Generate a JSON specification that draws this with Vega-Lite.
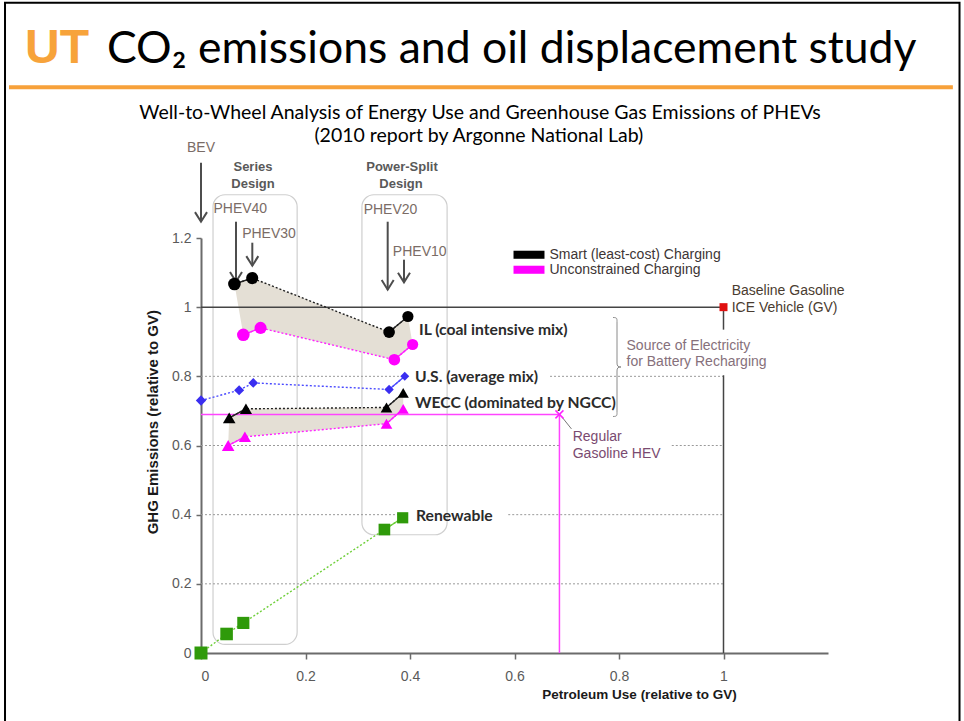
{
  "$schema": "https://vega.github.io/schema/vega-lite/v6.json",
  "width": 627,
  "height": 415,
  "autosize": {"type": "none"},
  "padding": {"left": 201, "top": 238, "right": 136, "bottom": 68},
  "background": "#ffffff",
  "config": {"view": {"stroke": null}, "font": "Liberation Sans"},
  "title": {
    "text": "CO₂ emissions and oil displacement study",
    "anchor": "start",
    "frame": "group",
    "dx": -94,
    "offset": -106,
    "baseline": "alphabetic",
    "font": "Lato",
    "fontSize": 44.5,
    "fontWeight": "normal",
    "color": "#000000"
  },
  "datasets": {
    "vehicles": [
      {"mix": "IL", "charging": "Smart (least-cost) Charging", "vehicle": "PHEV40", "design": "Series", "range": 40, "petroleum": 0.064, "ghg": 1.067},
      {"mix": "IL", "charging": "Smart (least-cost) Charging", "vehicle": "PHEV30", "design": "Series", "range": 30, "petroleum": 0.098, "ghg": 1.084},
      {"mix": "IL", "charging": "Smart (least-cost) Charging", "vehicle": "PHEV20", "design": "Power-Split", "range": 20, "petroleum": 0.360, "ghg": 0.928},
      {"mix": "IL", "charging": "Smart (least-cost) Charging", "vehicle": "PHEV10", "design": "Power-Split", "range": 10, "petroleum": 0.396, "ghg": 0.973},
      {"mix": "IL", "charging": "Unconstrained Charging", "vehicle": "PHEV40", "design": "Series", "range": 40, "petroleum": 0.081, "ghg": 0.920},
      {"mix": "IL", "charging": "Unconstrained Charging", "vehicle": "PHEV30", "design": "Series", "range": 30, "petroleum": 0.114, "ghg": 0.940},
      {"mix": "IL", "charging": "Unconstrained Charging", "vehicle": "PHEV20", "design": "Power-Split", "range": 20, "petroleum": 0.370, "ghg": 0.848},
      {"mix": "IL", "charging": "Unconstrained Charging", "vehicle": "PHEV10", "design": "Power-Split", "range": 10, "petroleum": 0.405, "ghg": 0.892},
      {"mix": "U.S.", "charging": "U.S. average mix", "vehicle": "BEV", "design": "BEV", "range": 0, "petroleum": 0.0, "ghg": 0.730},
      {"mix": "U.S.", "charging": "U.S. average mix", "vehicle": "PHEV40", "design": "Series", "range": 40, "petroleum": 0.073, "ghg": 0.760},
      {"mix": "U.S.", "charging": "U.S. average mix", "vehicle": "PHEV30", "design": "Series", "range": 30, "petroleum": 0.100, "ghg": 0.781},
      {"mix": "U.S.", "charging": "U.S. average mix", "vehicle": "PHEV20", "design": "Power-Split", "range": 20, "petroleum": 0.360, "ghg": 0.762},
      {"mix": "U.S.", "charging": "U.S. average mix", "vehicle": "PHEV10", "design": "Power-Split", "range": 10, "petroleum": 0.390, "ghg": 0.800},
      {"mix": "WECC", "charging": "Smart (least-cost) Charging", "vehicle": "PHEV40", "design": "Series", "range": 40, "petroleum": 0.054, "ghg": 0.680},
      {"mix": "WECC", "charging": "Smart (least-cost) Charging", "vehicle": "PHEV30", "design": "Series", "range": 30, "petroleum": 0.086, "ghg": 0.706},
      {"mix": "WECC", "charging": "Smart (least-cost) Charging", "vehicle": "PHEV20", "design": "Power-Split", "range": 20, "petroleum": 0.355, "ghg": 0.710},
      {"mix": "WECC", "charging": "Smart (least-cost) Charging", "vehicle": "PHEV10", "design": "Power-Split", "range": 10, "petroleum": 0.387, "ghg": 0.752},
      {"mix": "WECC", "charging": "Unconstrained Charging", "vehicle": "PHEV40", "design": "Series", "range": 40, "petroleum": 0.052, "ghg": 0.600},
      {"mix": "WECC", "charging": "Unconstrained Charging", "vehicle": "PHEV30", "design": "Series", "range": 30, "petroleum": 0.084, "ghg": 0.625},
      {"mix": "WECC", "charging": "Unconstrained Charging", "vehicle": "PHEV20", "design": "Power-Split", "range": 20, "petroleum": 0.355, "ghg": 0.663},
      {"mix": "WECC", "charging": "Unconstrained Charging", "vehicle": "PHEV10", "design": "Power-Split", "range": 10, "petroleum": 0.387, "ghg": 0.706},
      {"mix": "Renewable", "charging": "Renewable", "vehicle": "BEV", "design": "BEV", "range": 0, "petroleum": 0.0, "ghg": 0.0},
      {"mix": "Renewable", "charging": "Renewable", "vehicle": "PHEV40", "design": "Series", "range": 40, "petroleum": 0.049, "ghg": 0.055},
      {"mix": "Renewable", "charging": "Renewable", "vehicle": "PHEV30", "design": "Series", "range": 30, "petroleum": 0.081, "ghg": 0.087},
      {"mix": "Renewable", "charging": "Renewable", "vehicle": "PHEV20", "design": "Power-Split", "range": 20, "petroleum": 0.351, "ghg": 0.357},
      {"mix": "Renewable", "charging": "Renewable", "vehicle": "PHEV10", "design": "Power-Split", "range": 10, "petroleum": 0.386, "ghg": 0.391}
    ],
    "rules": [
      {"kind": "grid", "petroleum": 0, "petroleum2": 1, "ghg": 0.2, "ghg2": 0.2},
      {"kind": "grid", "petroleum": 0, "petroleum2": 0.39, "ghg": 0.4, "ghg2": 0.4},
      {"kind": "grid", "petroleum": 0.588, "petroleum2": 1, "ghg": 0.4, "ghg2": 0.4},
      {"kind": "grid", "petroleum": 0, "petroleum2": 0.686, "ghg": 0.6, "ghg2": 0.6},
      {"kind": "grid", "petroleum": 0.901, "petroleum2": 1, "ghg": 0.6, "ghg2": 0.6},
      {"kind": "grid", "petroleum": 0, "petroleum2": 0.394, "ghg": 0.8, "ghg2": 0.8},
      {"kind": "grid", "petroleum": 0.668, "petroleum2": 1, "ghg": 0.8, "ghg2": 0.8},
      {"kind": "ref", "petroleum": 0, "petroleum2": 1, "ghg": 1, "ghg2": 1},
      {"kind": "ref", "petroleum": 1, "petroleum2": 1, "ghg": 0, "ghg2": 0.803},
      {"kind": "ref", "petroleum": 1, "petroleum2": 1, "ghg": 0.935, "ghg2": 1},
      {"kind": "hev", "petroleum": 0, "petroleum2": 0.686, "ghg": 0.69, "ghg2": 0.69},
      {"kind": "hev", "petroleum": 0.686, "petroleum2": 0.686, "ghg": 0, "ghg2": 0.69},
      {"kind": "leader", "petroleum": 0.69, "petroleum2": 0.709, "ghg": 0.684, "ghg2": 0.648},
      {"kind": "arrow", "petroleum": 0.0, "petroleum2": 0.0, "ghg": 1.4176, "ghg2": 1.2471},
      {"kind": "arrow", "petroleum": 0.067, "petroleum2": 0.067, "ghg": 1.2471, "ghg2": 1.0737},
      {"kind": "arrow", "petroleum": 0.0982, "petroleum2": 0.0982, "ghg": 1.1864, "ghg2": 1.1199},
      {"kind": "arrow", "petroleum": 0.3573, "petroleum2": 0.3573, "ghg": 1.2471, "ghg2": 1.0506},
      {"kind": "arrow", "petroleum": 0.3885, "petroleum2": 0.3885, "ghg": 1.1373, "ghg2": 1.0717},
      {"kind": "accent", "petroleum": -0.3675, "petroleum2": 1.439, "ghg": 1.636, "ghg2": 1.636}
    ],
    "frames": [
      {"kind": "design", "petroleum": 0.023, "petroleum2": 0.184, "ghg": 0.025, "ghg2": 1.325},
      {"kind": "design", "petroleum": 0.308, "petroleum2": 0.471, "ghg": 0.342, "ghg2": 1.325},
      {"kind": "border", "petroleum": -0.3751, "petroleum2": 1.4517, "ghg": -0.25, "ghg2": 1.88}
    ],
    "markers": [
      {"kind": "gv", "petroleum": 1.0, "ghg": 1.0},
      {"kind": "hev", "petroleum": 0.686, "ghg": 0.69},
      {"kind": "brace", "petroleum": 0.7943, "ghg": 0.827},
      {"kind": "tip", "petroleum": 0.0, "ghg": 1.2471},
      {"kind": "tip", "petroleum": 0.067, "ghg": 1.0737},
      {"kind": "tip", "petroleum": 0.0982, "ghg": 1.1199},
      {"kind": "tip", "petroleum": 0.3573, "ghg": 1.0506},
      {"kind": "tip", "petroleum": 0.3885, "ghg": 1.0717}
    ],
    "notes": [
      {"kind": "veh", "text": "BEV", "petroleum": 0.0, "ghg": 1.461},
      {"kind": "veh", "text": "PHEV40", "petroleum": 0.0752, "ghg": 1.2847},
      {"kind": "veh", "text": "PHEV30", "petroleum": 0.1301, "ghg": 1.2124},
      {"kind": "veh", "text": "PHEV20", "petroleum": 0.3627, "ghg": 1.2803},
      {"kind": "veh", "text": "PHEV10", "petroleum": 0.4186, "ghg": 1.1584},
      {"kind": "design", "text": "Series", "petroleum": 0.0995, "ghg": 1.4061},
      {"kind": "design", "text": "Design", "petroleum": 0.0995, "ghg": 1.3569},
      {"kind": "design", "text": "Power-Split", "petroleum": 0.3847, "ghg": 1.4061},
      {"kind": "design", "text": "Design", "petroleum": 0.3828, "ghg": 1.3569},
      {"kind": "mix", "text": "IL (coal intensive mix)", "petroleum": 0.4172, "ghg": 0.935},
      {"kind": "mix", "text": "U.S. (average mix)", "petroleum": 0.4096, "ghg": 0.7977},
      {"kind": "mix", "text": "WECC (dominated by NGCC)", "petroleum": 0.4096, "ghg": 0.7225},
      {"kind": "mix", "text": "Renewable", "petroleum": 0.4115, "ghg": 0.3974},
      {"kind": "gv", "text": "Baseline Gasoline", "petroleum": 1.0157, "ghg": 1.046},
      {"kind": "gv", "text": "ICE Vehicle (GV)", "petroleum": 1.0157, "ghg": 0.9986},
      {"kind": "source", "text": "Source of Electricity", "petroleum": 0.8144, "ghg": 0.889},
      {"kind": "source", "text": "for Battery Recharging", "petroleum": 0.8144, "ghg": 0.8425},
      {"kind": "hev", "text": "Regular", "petroleum": 0.7114, "ghg": 0.6243},
      {"kind": "hev", "text": "Gasoline HEV", "petroleum": 0.7114, "ghg": 0.5766},
      {"kind": "subtitle", "text": "Well-to-Wheel Analysis of Energy Use and Greenhouse Gas Emissions of PHEVs", "petroleum": 0.534, "ghg": 1.5434},
      {"kind": "subtitle", "text": "(2010 report by Argonne National Lab)", "petroleum": 0.5317, "ghg": 1.4783},
      {"kind": "logo", "text": "UT", "petroleum": -0.3368, "ghg": 1.7066}
    ]
  },
  "encoding": {
    "x": {
      "field": "petroleum",
      "type": "quantitative",
      "scale": {"domain": [0, 1.2], "nice": false, "zero": false},
      "axis": {
        "values": [0, 0.2, 0.4, 0.6, 0.8, 1],
        "format": "~g",
        "grid": false,
        "domainColor": "#6b6b6b",
        "domainWidth": 2,
        "tickColor": "#6b6b6b",
        "tickWidth": 1.5,
        "tickSize": 6,
        "labelPadding": 10,
        "labelFont": "Liberation Sans",
        "labelFontSize": 14,
        "labelColor": "#5a5a5a",
        "title": "Petroleum Use (relative to GV)",
        "titleFont": "Liberation Sans",
        "titleFontSize": 13.5,
        "titleFontWeight": "bold",
        "titleColor": "#1a1a1a",
        "titleX": 438,
        "titleY": 41.5,
        "titleBaseline": "middle",
        "titleAlign": "center"
      }
    },
    "y": {
      "field": "ghg",
      "type": "quantitative",
      "scale": {"domain": [0, 1.2], "nice": false, "zero": false},
      "axis": {
        "values": [0, 0.2, 0.4, 0.6, 0.8, 1, 1.2],
        "format": "~g",
        "grid": false,
        "domainColor": "#6b6b6b",
        "domainWidth": 2,
        "tickColor": "#6b6b6b",
        "tickWidth": 1.5,
        "tickSize": 5,
        "labelPadding": 5,
        "labelFont": "Liberation Sans",
        "labelFontSize": 14,
        "labelColor": "#5a5a5a",
        "title": "GHG Emissions (relative to GV)",
        "titleFont": "Liberation Sans",
        "titleFontSize": 15,
        "titleFontWeight": "bold",
        "titleColor": "#1a1a1a",
        "titleAngle": -90,
        "titleX": -49,
        "titleY": 183.7,
        "titleBaseline": "middle",
        "titleAlign": "center"
      }
    }
  },
  "layer": [
    {
      "data": {"name": "frames"},
      "transform": [{"filter": "datum.kind == 'border'"}],
      "mark": {"type": "rect", "filled": false, "color": "#000000", "strokeWidth": 2},
      "encoding": {"x2": {"field": "petroleum2"}, "y2": {"field": "ghg2"}}
    },
    {
      "data": {"name": "frames"},
      "transform": [{"filter": "datum.kind == 'design'"}],
      "mark": {"type": "rect", "filled": false, "color": "#cfcfcf", "strokeWidth": 1.2, "cornerRadius": 12},
      "encoding": {"x2": {"field": "petroleum2"}, "y2": {"field": "ghg2"}}
    },
    {
      "data": {"name": "rules"},
      "transform": [{"filter": "datum.kind == 'accent'"}],
      "mark": {"type": "rule", "color": "#f7a13a", "strokeWidth": 4},
      "encoding": {"x2": {"field": "petroleum2"}, "y2": {"field": "ghg2"}}
    },
    {
      "data": {"name": "rules"},
      "transform": [{"filter": "datum.kind == 'grid'"}],
      "mark": {"type": "rule", "color": "#9a9a9a", "strokeWidth": 1, "strokeDash": [2, 2]},
      "encoding": {"x2": {"field": "petroleum2"}, "y2": {"field": "ghg2"}}
    },
    {
      "data": {"name": "vehicles"},
      "transform": [
        {"filter": "(datum.mix == 'IL' || datum.mix == 'WECC')"},
        {"calculate": "datum.charging == 'Smart (least-cost) Charging' ? 50 - datum.range : 50 + datum.range", "as": "ring"}
      ],
      "mark": {"type": "line", "fill": "#e4dfd5", "strokeOpacity": 0},
      "encoding": {"detail": {"field": "mix"}, "order": {"field": "ring", "type": "quantitative"}}
    },
    {
      "data": {"name": "rules"},
      "transform": [{"filter": "datum.kind == 'ref'"}],
      "mark": {"type": "rule", "color": "#444444", "strokeWidth": 1.5},
      "encoding": {"x2": {"field": "petroleum2"}, "y2": {"field": "ghg2"}}
    },
    {
      "data": {"name": "rules"},
      "transform": [{"filter": "datum.kind == 'hev'"}],
      "mark": {"type": "rule", "color": "#ff44ff", "strokeWidth": 1.5},
      "encoding": {"x2": {"field": "petroleum2"}, "y2": {"field": "ghg2"}}
    },
    {
      "data": {"name": "rules"},
      "transform": [{"filter": "datum.kind == 'leader'"}],
      "mark": {"type": "rule", "color": "#777777", "strokeWidth": 1},
      "encoding": {"x2": {"field": "petroleum2"}, "y2": {"field": "ghg2"}}
    },
    {
      "data": {"name": "rules"},
      "transform": [{"filter": "datum.kind == 'arrow'"}],
      "mark": {"type": "rule", "color": "#4d4d4d", "strokeWidth": 2},
      "encoding": {"x2": {"field": "petroleum2"}, "y2": {"field": "ghg2"}}
    },
    {
      "data": {"name": "markers"},
      "transform": [{"filter": "datum.kind == 'tip'"}],
      "mark": {"type": "point", "filled": false, "shape": "M-1,-1.6L0,0L1,-1.6", "size": 144, "color": "#4d4d4d", "strokeWidth": 2, "opacity": 1}
    },
    {
      "data": {"name": "vehicles"},
      "mark": {"type": "line", "strokeDash": [2, 2], "strokeWidth": 1.4},
      "encoding": {
        "detail": [{"field": "mix"}, {"field": "charging"}],
        "stroke": {
          "field": "charging",
          "type": "nominal",
          "scale": {
            "domain": ["U.S. average mix", "Renewable", "Smart (least-cost) Charging", "Unconstrained Charging"],
            "range": ["#4a4aff", "#6fcf3a", "#222222", "#ff22ff"]
          },
          "legend": null
        }
      }
    },
    {
      "data": {"name": "vehicles"},
      "transform": [{"filter": "datum.design == 'Power-Split' || (datum.design == 'Series' && (datum.mix == 'IL' || datum.mix == 'WECC'))"}],
      "mark": {"type": "line", "strokeWidth": 1.4},
      "encoding": {
        "detail": [{"field": "mix"}, {"field": "charging"}, {"field": "design"}],
        "stroke": {"field": "charging", "type": "nominal", "legend": null}
      }
    },
    {
      "data": {"name": "vehicles"},
      "mark": {"type": "point", "filled": true, "opacity": 1, "strokeWidth": 0},
      "encoding": {
        "shape": {
          "field": "mix",
          "type": "nominal",
          "scale": {
            "domain": ["IL", "U.S.", "WECC", "Renewable"],
            "range": ["circle", "M-0.8,0L0,-0.8L0.8,0L0,0.8Z", "triangle-up", "square"]
          },
          "legend": null
        },
        "fill": {
          "field": "charging",
          "type": "nominal",
          "scale": {
            "domain": ["Smart (least-cost) Charging", "Unconstrained Charging", "U.S. average mix", "Renewable"],
            "range": ["#000000", "#ff00ff", "#3a2ef0", "#2f9a0a"]
          },
          "legend": {
            "values": ["Smart (least-cost) Charging", "Unconstrained Charging"],
            "orient": "none",
            "legendX": 320,
            "legendY": 8.75,
            "title": null,
            "padding": 0,
            "symbolType": "M-2,-0.52H2V0.52H-2Z",
            "symbolSize": 240,
            "symbolStrokeWidth": 0,
            "symbolOpacity": 1,
            "labelFont": "Liberation Sans",
            "labelFontSize": 14,
            "labelColor": "#3d3535",
            "labelOffset": 12.5,
            "labelLimit": 400,
            "rowPadding": 0
          }
        },
        "size": {
          "field": "vehicle",
          "type": "nominal",
          "scale": {
            "domain": ["BEV", "PHEV40", "PHEV30", "PHEV20", "PHEV10"],
            "range": [169, 125, 76, 72, 22]
          },
          "legend": null
        }
      }
    },
    {
      "data": {"name": "markers"},
      "transform": [{"filter": "datum.kind == 'gv'"}],
      "mark": {"type": "point", "shape": "square", "filled": true, "color": "#e01010", "size": 64, "opacity": 1}
    },
    {
      "data": {"name": "markers"},
      "transform": [{"filter": "datum.kind == 'hev'"}],
      "mark": {"type": "point", "shape": "M-1,-1L1,1M-1,1L1,-1", "filled": false, "color": "#ff22ff", "size": 64, "strokeWidth": 1.5, "opacity": 1}
    },
    {
      "data": {"name": "markers"},
      "transform": [{"filter": "datum.kind == 'brace'"}],
      "mark": {
        "type": "point",
        "shape": "M-0.06,-1C0.02,-1 0.02,-0.98 0.02,-0.92L0.02,-0.08C0.02,-0.02 0.04,0 0.1,0C0.04,0 0.02,0.02 0.02,0.08L0.02,0.92C0.02,0.98 0.02,1 -0.06,1",
        "filled": false,
        "color": "#8a8a8a",
        "size": 9801,
        "strokeWidth": 1,
        "opacity": 1
      }
    },
    {
      "data": {"name": "notes"},
      "transform": [{"filter": "datum.kind == 'veh'"}],
      "mark": {"type": "text", "font": "Liberation Sans", "fontSize": 14, "color": "#7a6c66", "align": "center", "baseline": "middle"},
      "encoding": {"text": {"field": "text"}}
    },
    {
      "data": {"name": "notes"},
      "transform": [{"filter": "datum.kind == 'design'"}],
      "mark": {"type": "text", "font": "Liberation Sans", "fontSize": 13, "fontWeight": "bold", "color": "#595959", "align": "center", "baseline": "middle"},
      "encoding": {"text": {"field": "text"}}
    },
    {
      "data": {"name": "notes"},
      "transform": [{"filter": "datum.kind == 'mix'"}],
      "mark": {"type": "text", "font": "Lato", "fontSize": 15.7, "fontWeight": "bold", "color": "#2b2b2b", "align": "left", "baseline": "middle"},
      "encoding": {"text": {"field": "text"}}
    },
    {
      "data": {"name": "notes"},
      "transform": [{"filter": "datum.kind == 'gv'"}],
      "mark": {"type": "text", "font": "Liberation Sans", "fontSize": 14, "color": "#4a3c30", "align": "left", "baseline": "middle"},
      "encoding": {"text": {"field": "text"}}
    },
    {
      "data": {"name": "notes"},
      "transform": [{"filter": "datum.kind == 'source'"}],
      "mark": {"type": "text", "font": "Liberation Sans", "fontSize": 14, "color": "#86707b", "align": "left", "baseline": "middle"},
      "encoding": {"text": {"field": "text"}}
    },
    {
      "data": {"name": "notes"},
      "transform": [{"filter": "datum.kind == 'hev'"}],
      "mark": {"type": "text", "font": "Liberation Sans", "fontSize": 14, "color": "#7a4a70", "align": "left", "baseline": "middle"},
      "encoding": {"text": {"field": "text"}}
    },
    {
      "data": {"name": "notes"},
      "transform": [{"filter": "datum.kind == 'subtitle'"}],
      "mark": {"type": "text", "font": "Lato", "fontSize": 19.5, "color": "#000000", "align": "center", "baseline": "alphabetic"},
      "encoding": {"text": {"field": "text"}}
    },
    {
      "data": {"name": "notes"},
      "transform": [{"filter": "datum.kind == 'logo'"}],
      "mark": {"type": "text", "font": "Liberation Sans", "fontSize": 48, "fontWeight": "bold", "color": "#f7a33b", "align": "left", "baseline": "alphabetic"},
      "encoding": {"text": {"field": "text"}}
    }
  ]
}
